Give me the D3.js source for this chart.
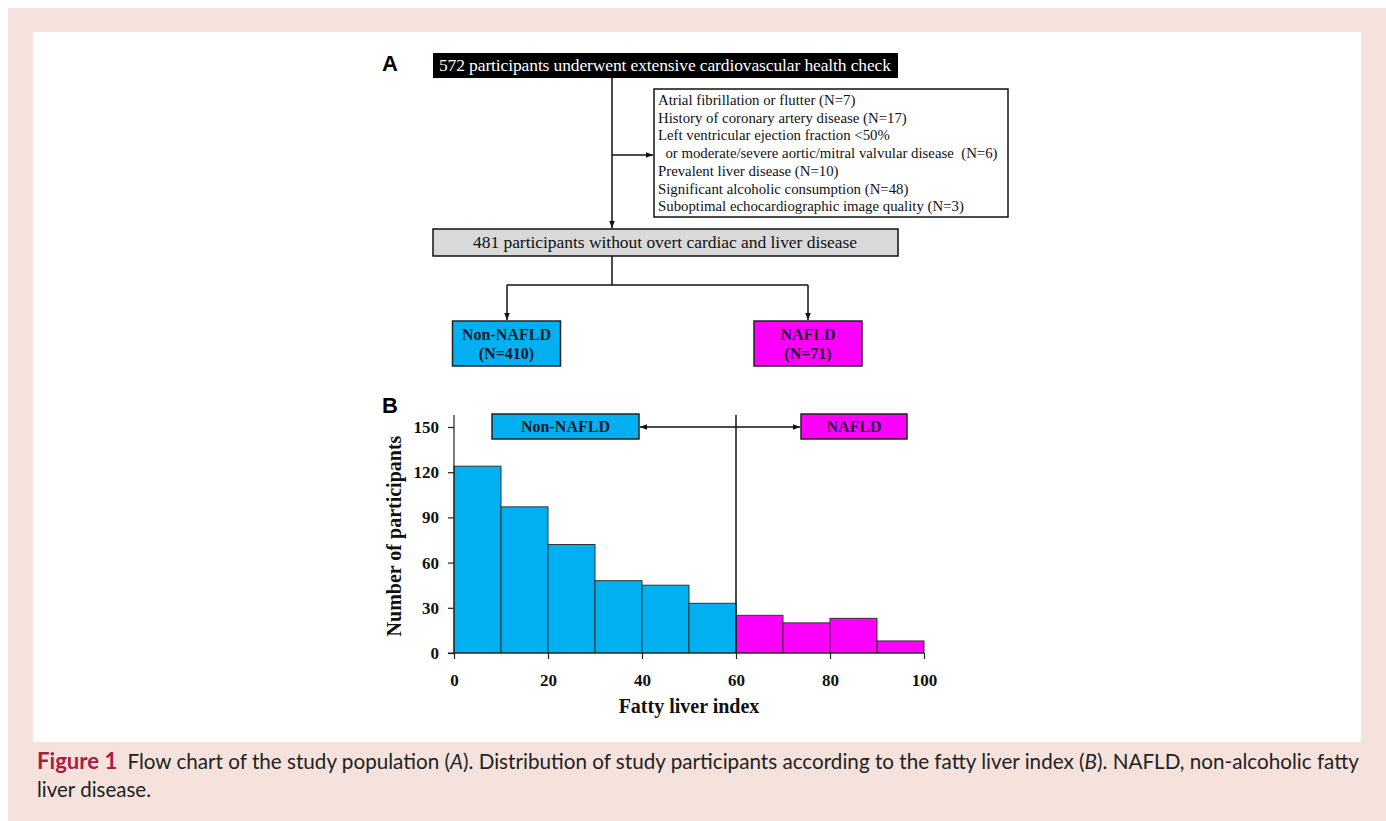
<!DOCTYPE html>
<html>
<head>
  <meta charset="utf-8">
  <title>Figure 1</title>
  <script src="https://d3js.org/d3.v7.min.js"></script>
  <style>
    body { margin: 0; background: #fff; }
    svg { display: block; }
    .serif { font-family: "Liberation Serif", "Times New Roman", serif; }
    .axis text { font-family: "Liberation Serif", serif; font-weight: bold; font-size: 17px; fill: #111; }
    .axis line, .axis path { stroke: #222; stroke-width: 1.2px; }
  </style>
</head>
<body>
  <svg width="1386" height="821"></svg>
  <script>
    // histogram of fatty liver index (bins of 10)
    const binStarts = [0, 10, 20, 30, 40, 50, 60, 70, 80, 90];
    const counts = [124, 97, 72, 48, 45, 33, 25, 20, 23, 8];
    const cutoff = 60;
    const yTicks = [0, 30, 60, 90, 120, 150];
    const xTicks = [0, 20, 40, 60, 80, 100];

    const exclusions = [
      "Atrial fibrillation or flutter (N=7)",
      "History of coronary artery disease (N=17)",
      "Left ventricular ejection fraction <50%",
      "  or moderate/severe aortic/mitral valvular disease  (N=6)",
      "Prevalent liver disease (N=10)",
      "Significant alcoholic consumption (N=48)",
      "Suboptimal echocardiographic image quality (N=3)"
    ];

    const blue = "#00b0f0", pink = "#ff00ff";

    const svg = d3.select("svg");

    // page background and white panel
    svg.append("rect").attr("x", 8).attr("y", 8).attr("width", 1378).attr("height", 813).attr("fill", "#f5e2dd");
    svg.append("rect").attr("x", 33).attr("y", 32).attr("width", 1328).attr("height", 710).attr("fill", "#fff");

    const defs = svg.append("defs");
    defs.append("marker").attr("id", "arr")
      .attr("viewBox", "0 0 10 10").attr("refX", 10).attr("refY", 5)
      .attr("markerWidth", 7).attr("markerHeight", 7).attr("markerUnits", "userSpaceOnUse")
      .attr("orient", "auto-start-reverse")
      .append("path").attr("d", "M0,1 L10,5 L0,9 Z").attr("fill", "#111");

    const line = (pts, arrow) => {
      const p = svg.append("path").attr("d", d3.line()(pts))
        .attr("fill", "none").attr("stroke", "#111").attr("stroke-width", 1.5);
      if (arrow === "end" || arrow === "both") p.attr("marker-end", "url(#arr)");
      if (arrow === "both") p.attr("marker-start", "url(#arr)");
      return p;
    };

    // ---------- A: flow chart ----------
    svg.append("text").attr("x", 382).attr("y", 71).text("A")
      .attr("font-family", "Liberation Sans, Arial, sans-serif").attr("font-weight", "bold").attr("font-size", 22);

    svg.append("rect").attr("x", 433).attr("y", 53).attr("width", 465).attr("height", 25).attr("fill", "#000");
    svg.append("text").attr("class", "serif").attr("x", 665).attr("y", 71).attr("text-anchor", "middle")
      .attr("fill", "#fff").attr("font-size", 17.5).attr("textLength", 452)
      .text("572 participants underwent extensive cardiovascular health check");

    line([[612, 78], [612, 228]], "end");
    line([[612, 155], [653, 155]], "end");

    svg.append("rect").attr("x", 654).attr("y", 89).attr("width", 354).attr("height", 128)
      .attr("fill", "#fff").attr("stroke", "#111").attr("stroke-width", 1.5);
    svg.append("g").selectAll("text").data(exclusions).join("text")
      .attr("class", "serif").attr("x", 658).attr("y", (d, i) => 105 + i * 17.7)
      .attr("font-size", 14.8).attr("fill", "#111").attr("xml:space", "preserve")
      .text(d => d);

    svg.append("rect").attr("x", 433).attr("y", 229).attr("width", 465).attr("height", 27)
      .attr("fill", "#d9d9d9").attr("stroke", "#111").attr("stroke-width", 1.5);
    svg.append("text").attr("class", "serif").attr("x", 665).attr("y", 248).attr("text-anchor", "middle")
      .attr("font-size", 17.5).attr("fill", "#111").attr("textLength", 384)
      .text("481 participants without overt cardiac and liver disease");

    line([[612, 256], [612, 285]]);
    line([[507, 285], [808, 285]]);
    line([[507, 285], [507, 320]], "end");
    line([[808, 285], [808, 320]], "end");

    const groups = [
      { name: "Non-NAFLD", n: "(N=410)", cx: 506.5, fill: blue },
      { name: "NAFLD", n: "(N=71)", cx: 808, fill: pink }
    ];
    groups.forEach(g => {
      svg.append("rect").attr("x", g.cx - 54).attr("y", 321).attr("width", 108).attr("height", 45)
        .attr("fill", g.fill).attr("stroke", "#222").attr("stroke-width", 1.5);
      svg.append("text").attr("class", "serif").attr("x", g.cx).attr("y", 340).attr("text-anchor", "middle")
        .attr("font-weight", "bold").attr("font-size", 16).attr("fill", "#1a1a2a").text(g.name);
      svg.append("text").attr("class", "serif").attr("x", g.cx).attr("y", 359).attr("text-anchor", "middle")
        .attr("font-weight", "bold").attr("font-size", 16).attr("fill", "#1a1a2a").text(g.n);
    });

    // ---------- B: histogram ----------
    svg.append("text").attr("x", 382).attr("y", 413).text("B")
      .attr("font-family", "Liberation Sans, Arial, sans-serif").attr("font-weight", "bold").attr("font-size", 22);

    const x = d3.scaleLinear().domain([0, 100]).range([454, 924]);
    const y = d3.scaleLinear().domain([0, 150]).range([653, 427]);

    svg.append("g").selectAll("rect").data(binStarts).join("rect")
      .attr("x", d => x(d)).attr("width", d => x(d + 10) - x(d))
      .attr("y", (d, i) => y(counts[i])).attr("height", (d, i) => y(0) - y(counts[i]))
      .attr("fill", d => d >= cutoff ? pink : blue)
      .attr("stroke", "#333").attr("stroke-width", 1);

    const yAxis = svg.append("g").attr("class", "axis").attr("transform", `translate(${x(0)},0)`)
      .call(d3.axisLeft(y).tickValues(yTicks).tickSize(6).tickSizeOuter(0).tickPadding(9));
    yAxis.select(".domain").remove();
    yAxis.append("line").attr("x1", 0).attr("x2", 0).attr("y1", y(0)).attr("y2", 415);

    const xAxis = svg.append("g").attr("class", "axis").attr("transform", `translate(0,${y(0)})`)
      .call(d3.axisBottom(x).tickValues(xTicks).tickSize(6).tickSizeOuter(0).tickPadding(15));
    xAxis.select(".domain").remove();
    xAxis.append("line").attr("x1", x(0) - 6).attr("x2", x(100)).attr("y1", 0).attr("y2", 0);

    // cutoff line
    svg.append("line").attr("x1", x(cutoff)).attr("x2", x(cutoff)).attr("y1", y(0)).attr("y2", 415)
      .attr("stroke", "#111").attr("stroke-width", 1.5);

    // group labels with double arrow
    const labelBoxes = [
      { t: "Non-NAFLD", x0: 492, x1: 639, fill: blue },
      { t: "NAFLD", x0: 801, x1: 907, fill: pink }
    ];
    labelBoxes.forEach(b => {
      svg.append("rect").attr("x", b.x0).attr("y", 414).attr("width", b.x1 - b.x0).attr("height", 25)
        .attr("fill", b.fill).attr("stroke", "#222").attr("stroke-width", 1.5);
      svg.append("text").attr("class", "serif").attr("x", (b.x0 + b.x1) / 2).attr("y", 432)
        .attr("text-anchor", "middle").attr("font-weight", "bold").attr("font-size", 16)
        .attr("fill", "#1a1a2a").text(b.t);
    });
    line([[640, 427], [800, 427]], "both");

    svg.append("text").attr("class", "serif").attr("transform", "translate(401,536) rotate(-90)")
      .attr("text-anchor", "middle").attr("font-weight", "bold").attr("font-size", 20).attr("fill", "#111")
      .text("Number of participants");
    svg.append("text").attr("class", "serif").attr("x", 689).attr("y", 713)
      .attr("text-anchor", "middle").attr("font-weight", "bold").attr("font-size", 20).attr("fill", "#111")
      .text("Fatty liver index");

    // ---------- caption ----------
    const cap = svg.append("text").attr("x", 37).attr("y", 769)
      .attr("font-family", "Lato, 'Open Sans', sans-serif").attr("font-size", 20.5).attr("fill", "#222")
      .attr("textLength", 1322).attr("lengthAdjust", "spacingAndGlyphs");
    cap.append("tspan").attr("font-weight", "bold").attr("font-size", 22).attr("fill", "#ad1a41").text("Figure 1");
    cap.append("tspan").attr("dx", 10)
      .text("Flow chart of the study population (")
      .append("tspan").attr("font-style", "italic").text("A");
    cap.append("tspan").text("). Distribution of study participants according to the fatty liver index (");
    cap.append("tspan").attr("font-style", "italic").text("B");
    cap.append("tspan").text("). NAFLD, non-alcoholic fatty");
    svg.append("text").attr("x", 37).attr("y", 797)
      .attr("font-family", "Lato, 'Open Sans', sans-serif").attr("font-size", 20.5).attr("fill", "#222")
      .text("liver disease.");
  </script>
</body>
</html>
